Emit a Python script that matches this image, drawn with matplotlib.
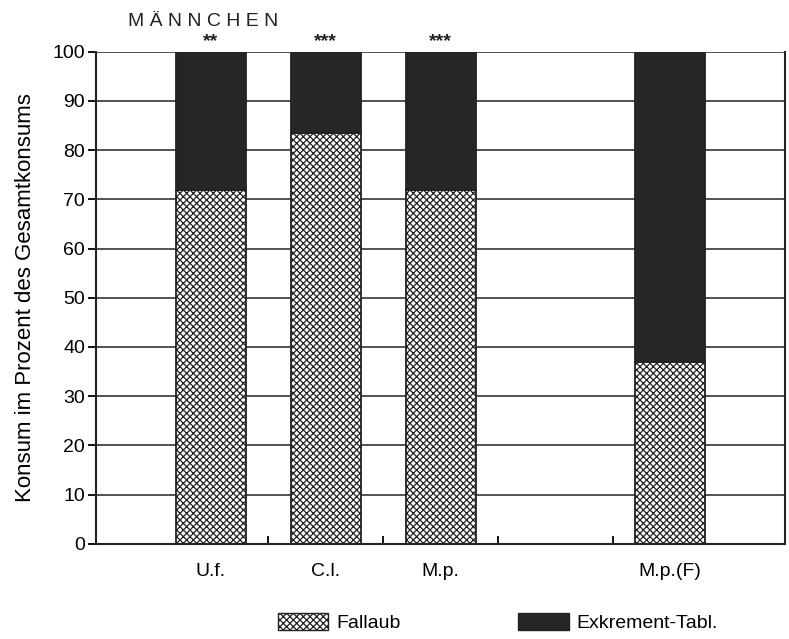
import matplotlib.pyplot as plt
import matplotlib.patches as mpatches
import numpy as np

plt.rcParams['font.family'] = ['Liberation Sans', 'DejaVu Sans']
plt.rcParams['hatch.linewidth'] = 0.9
plt.rcParams['hatch.color'] = '#333333'

categories = ['U.f.', 'C.l.', 'M.p.', 'M.p.(F)']
positions = [1, 2, 3, 5]
fallaub = [72, 83.5, 72, 37]
exkrement = [28, 16.5, 28, 63]
signif = ['**', '***', '***', '']

fig = plt.figure(figsize=(7.89, 6.39), dpi=100)
ax = fig.add_axes([0.122, 0.149, 0.873, 0.770])

ax.set_axisbelow(True)
ax.yaxis.grid(True, color='#444444', linewidth=1.3)

width = 0.61
ax.bar(positions, fallaub, width, color='white', edgecolor='#222222',
       hatch='xxxxx', linewidth=1.3, label='Fallaub')
ax.bar(positions, exkrement, width, bottom=fallaub, color='#262626',
       edgecolor='#222222', linewidth=1.3, label='Exkrement-Tabl.')

for p, s in zip(positions, signif):
    if s:
        ax.text(p, 100.4, s, ha='center', va='bottom', fontsize=14,
                fontweight='bold', color='#222222')

ax.set_xlim(0, 6)
ax.set_ylim(0, 100)
ax.set_yticks(np.arange(0, 101, 10))
ax.set_xticks(positions)
ax.set_xticklabels(categories, fontsize=14)
ax.set_xticks([1.5, 2.5, 3.5, 4.5], minor=True)
ax.tick_params(axis='x', which='major', length=0, pad=14)
ax.tick_params(axis='x', which='minor', length=6, direction='in', width=1.3)
ax.tick_params(axis='y', labelsize=14, length=6, width=1.3, direction='out', pad=2)

for sp in ['left', 'bottom', 'right']:
    ax.spines[sp].set_linewidth(1.5)
    ax.spines[sp].set_color('#222222')
ax.spines['top'].set_visible(False)

ax.set_ylabel('Konsum im Prozent des Gesamtkonsums', fontsize=16, labelpad=12)

fig.text(0.162, 0.966, 'M Ä N N C H E N', fontsize=14, ha='left', va='center',
         color='#222222')

h1 = mpatches.Patch(facecolor='white', edgecolor='#222222', hatch='xxxxx', linewidth=1.0)
h2 = mpatches.Patch(facecolor='#262626', edgecolor='#222222', linewidth=1.0)
fig.legend([h1, h2], ['Fallaub', 'Exkrement-Tabl.'], loc='center left',
           bbox_to_anchor=(0.352, 0.026), ncol=2, frameon=False, fontsize=14,
           handlelength=2.6, handleheight=0.95, columnspacing=6.05,
           handletextpad=0.4, borderpad=0, borderaxespad=0)

fig.savefig('out.png', dpi=100)
